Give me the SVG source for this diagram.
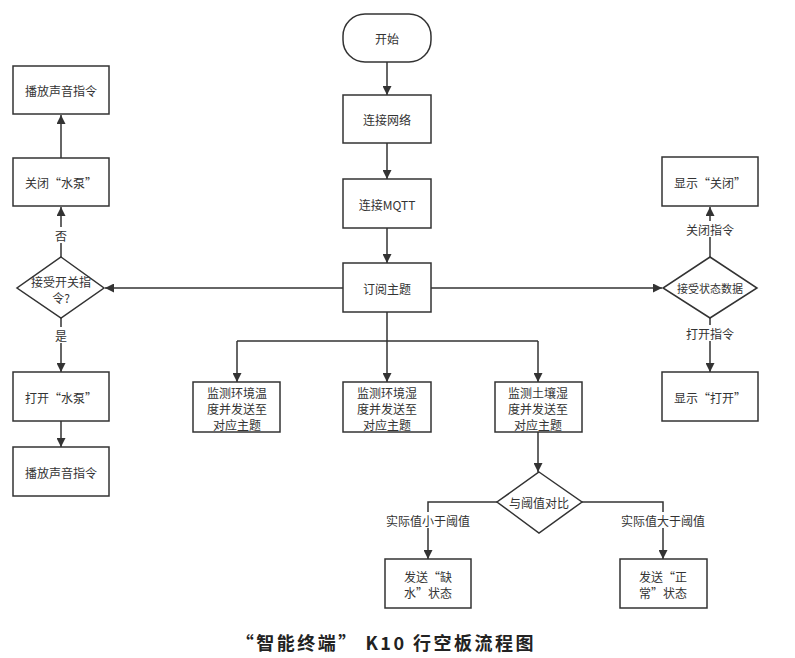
<svg xmlns="http://www.w3.org/2000/svg" width="795" height="658" viewBox="0 0 795 658">
<defs>
<marker id="ah" viewBox="0 0 10 10" refX="10" refY="5" markerWidth="9" markerHeight="9" markerUnits="userSpaceOnUse" orient="auto">
<path d="M0,0 L10,5 L0,10 z" fill="#333"/>
</marker>
<style>
.n{fill:#fff;stroke:#333;stroke-width:1.5}
.t{font-family:"Noto Sans CJK SC","Liberation Sans",sans-serif;font-size:12px;fill:#333;text-anchor:middle;dominant-baseline:central}
.c{fill:none;stroke:#333;stroke-width:1.5}
.a{marker-end:url(#ah)}
.lb{fill:#fff}
</style>
</defs>
<rect width="795" height="658" fill="#fff"/>
<g id="connectors">
<path class="c a" d="M387,62 V95"/>
<path class="c a" d="M387,143 V179"/>
<path class="c a" d="M387,228 V263"/>
<path class="c a" d="M343,288 H105"/>
<path class="c a" d="M431,288 H662"/>
<path class="c" d="M387,312 V341 M237,341 H538"/>
<path class="c a" d="M237,341 V382"/>
<path class="c a" d="M387,341 V382"/>
<path class="c a" d="M538,341 V382"/>
<path class="c a" d="M538,432 V472"/>
<path class="c a" d="M497,502 H428 V559"/>
<path class="c a" d="M582,502 H663 V559"/>
<path class="c a" d="M61,257 V207"/>
<path class="c a" d="M61,158 V115"/>
<path class="c a" d="M61,318 V372"/>
<path class="c a" d="M61,421 V447"/>
<path class="c a" d="M710,257 V207"/>
<path class="c a" d="M710,318 V372"/>
<rect class="lb" x="53" y="227" width="16" height="16"/>
<text class="t" x="61" y="235">否</text>
<rect class="lb" x="53" y="327" width="16" height="16"/>
<text class="t" x="61" y="335">是</text>
<rect class="lb" x="684" y="221" width="52" height="16"/>
<text class="t" x="710" y="229">关闭指令</text>
<rect class="lb" x="684" y="325" width="52" height="16"/>
<text class="t" x="710" y="333">打开指令</text>
<rect class="lb" x="386" y="512" width="84" height="16"/>
<text class="t" x="428" y="520">实际值小于阈值</text>
<rect class="lb" x="621" y="512" width="84" height="16"/>
<text class="t" x="663" y="520">实际值大于阈值</text>
</g>
<g id="start"><rect class="n" x="343" y="14" width="88" height="48" rx="22" ry="22"/><text class="t" x="387" y="38">开始</text></g>
<g id="net"><rect class="n" x="343" y="95" width="88" height="48"/><text class="t" x="387" y="119">连接网络</text></g>
<g id="mqtt"><rect class="n" x="343" y="179" width="88" height="49"/><text class="t" x="387" y="204">连接MQTT</text></g>
<g id="sub"><rect class="n" x="343" y="263" width="88" height="49"/><text class="t" x="387" y="288">订阅主题</text></g>
<g id="m1"><rect class="n" x="193" y="382" width="87" height="50"/><text class="t" x="237" y="392">监测环境温</text><text class="t" x="237" y="408">度并发送至</text><text class="t" x="237" y="424">对应主题</text></g>
<g id="m2"><rect class="n" x="343" y="382" width="88" height="50"/><text class="t" x="387" y="392">监测环境湿</text><text class="t" x="387" y="408">度并发送至</text><text class="t" x="387" y="424">对应主题</text></g>
<g id="m3"><rect class="n" x="495" y="382" width="87" height="50"/><text class="t" x="538" y="392">监测土壤湿</text><text class="t" x="538" y="408">度并发送至</text><text class="t" x="538" y="424">对应主题</text></g>
<g id="cmp"><polygon class="n" points="539,472 582,502 539,533 497,502"/><text class="t" x="539" y="502">与阈值对比</text></g>
<g id="lack"><rect class="n" x="385" y="559" width="86" height="49"/><text class="t" x="428" y="576">发送“缺</text><text class="t" x="428" y="592">水”状态</text></g>
<g id="ok"><rect class="n" x="620" y="559" width="87" height="49"/><text class="t" x="663" y="576">发送“正</text><text class="t" x="663" y="592">常”状态</text></g>
<g id="recv"><polygon class="n" points="61,257 104,288 61,318 17,288"/><text class="t" x="61" y="281">接受开关指</text><text class="t" x="61" y="297">令?</text></g>
<g id="close"><rect class="n" x="13" y="158" width="96" height="48"/><text class="t" x="61" y="182">关闭“水泵”</text></g>
<g id="play1"><rect class="n" x="13" y="66" width="96" height="48"/><text class="t" x="61" y="90">播放声音指令</text></g>
<g id="open"><rect class="n" x="13" y="372" width="96" height="49"/><text class="t" x="61" y="397">打开“水泵”</text></g>
<g id="play2"><rect class="n" x="13" y="447" width="96" height="49"/><text class="t" x="61" y="472">播放声音指令</text></g>
<g id="state"><polygon class="n" points="710,257 757,288 710,318 663,288"/><text class="t" x="710" y="288" style="font-size:11px">接受状态数据</text></g>
<g id="showclose"><rect class="n" x="662" y="157" width="96" height="49"/><text class="t" x="710" y="182">显示“关闭”</text></g>
<g id="showopen"><rect class="n" x="662" y="372" width="96" height="49"/><text class="t" x="710" y="397">显示“打开”</text></g>
<text x="386" y="642" style="font-family:'Noto Sans CJK SC','Noto Sans',sans-serif;font-size:18px;font-weight:bold;fill:#222;text-anchor:middle;dominant-baseline:central;letter-spacing:2.5px">“智能终端” K10 行空板流程图</text>
</svg>
